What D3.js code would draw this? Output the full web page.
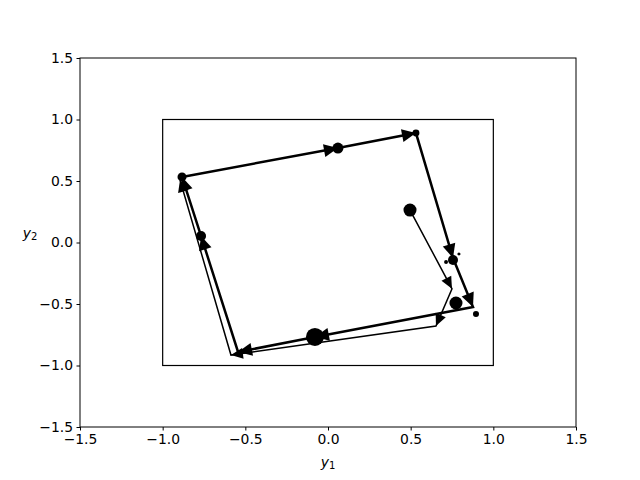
<!DOCTYPE html>
<html>
<head>
<meta charset="utf-8">
<script src="https://cdn.jsdelivr.net/npm/d3@7"></script>
<style>
  body { margin: 0; background: #fff; }
  text { font-family: "DejaVu Sans", sans-serif; }
</style>
</head>
<body>
<svg id="chart"></svg>
<script>
// axis ticks
const xTicks = [-1.5, -1.0, -0.5, 0.0, 0.5, 1.0, 1.5];
const yTicks = [-1.5, -1.0, -0.5, 0.0, 0.5, 1.0, 1.5];

// the unit box
const boxX = [-1, 1];
const boxY = [-1, 1];

// transient trajectory (thin)
const transX = [0.496, 0.750, 0.653, -0.587, -0.895];
const transY = [0.264, -0.377, -0.679, -0.915, 0.508];

// limit cycle (thick)
const cycleX = [-0.883, 0.060, 0.532, 0.756, 0.877, -0.079, -0.544, -0.768, -0.883];
const cycleY = [0.533, 0.768, 0.890, -0.126, -0.524, -0.768, -0.890, 0.053, 0.533];

// scatter points with marker sizes
const dotX = [0.496, 0.532, 0.060, -0.883, -0.768, -0.079, 0.774, 0.756, 0.895, 0.714, 0.792];
const dotY = [0.264, 0.890, 0.768, 0.533, 0.053, -0.768, -0.492, -0.142, -0.581, -0.159, -0.093];
const dotS = [88, 25, 63, 42, 52, 168, 88, 52, 19, 8, 5];

const width = 640;
const height = 480;
const margin = { top: 58, right: 64, bottom: 53, left: 80 };

const svg = d3.select("#chart").attr("width", width).attr("height", height);

const x = d3.scaleLinear().domain([-1.5, 1.5]).range([margin.left, width - margin.right]);
const y = d3.scaleLinear().domain([-1.5, 1.5]).range([height - margin.bottom, margin.top]);
const r = d3.scaleSqrt().domain([0, 100]).range([0, Math.sqrt(100) / 2 * 100 / 72]);

const fmt = d3.format(".1f");
const minus = (v) => fmt(v).replace("-", "\u2212");

// axes
svg.append("g")
  .attr("transform", `translate(0,${height - margin.bottom})`)
  .call(d3.axisBottom(x).tickValues(xTicks).tickFormat(minus).tickSizeOuter(0).tickSize(3.5).tickPadding(3.5))
  .call((g) => g.select(".domain").remove())
  .call((g) => g.selectAll("text").attr("font-size", 13.9).attr("font-family", "DejaVu Sans").attr("fill", "#000"));

svg.append("g")
  .attr("transform", `translate(${margin.left},0)`)
  .call(d3.axisLeft(y).tickValues(yTicks).tickFormat(minus).tickSizeOuter(0).tickSize(3.5).tickPadding(3.5))
  .call((g) => g.select(".domain").remove())
  .call((g) => g.selectAll("text").attr("font-size", 13.9).attr("font-family", "DejaVu Sans").attr("fill", "#000"));

svg.append("rect")
  .attr("x", x(-1.5)).attr("y", y(1.5))
  .attr("width", x(1.5) - x(-1.5)).attr("height", y(-1.5) - y(1.5))
  .attr("fill", "none").attr("stroke", "#000").attr("stroke-width", 1);

// axis labels
const xl = svg.append("text")
  .attr("x", (x(-1.5) + x(1.5)) / 2).attr("y", 467)
  .attr("text-anchor", "middle").attr("font-size", 13.9);
xl.append("tspan").attr("font-style", "italic").text("y");
xl.append("tspan").attr("font-size", 10).attr("dy", 2).text("1");

const yl = svg.append("text")
  .attr("x", 30).attr("y", 238)
  .attr("text-anchor", "middle").attr("font-size", 13.9);
yl.append("tspan").attr("font-style", "italic").text("y");
yl.append("tspan").attr("font-size", 10).attr("dy", 2).text("2");

// box
svg.append("rect")
  .attr("x", x(boxX[0])).attr("y", y(boxY[1]))
  .attr("width", x(boxX[1]) - x(boxX[0])).attr("height", y(boxY[0]) - y(boxY[1]))
  .attr("fill", "none").attr("stroke", "#000").attr("stroke-width", 1.2);

function drawPath(xs, ys, lw, headLen, headW) {
  const pts = xs.map((d, i) => [x(d), y(ys[i])]);
  svg.append("path")
    .attr("d", d3.line()(pts))
    .attr("fill", "none").attr("stroke", "#000").attr("stroke-width", lw)
    .attr("stroke-linejoin", "miter");
  const heads = [];
  for (let i = 1; i < pts.length; i++) heads.push([pts[i - 1], pts[i]]);
  svg.append("g").selectAll("path")
    .data(heads)
    .join("path")
    .attr("d", ([a, b]) => {
      const dx = b[0] - a[0], dy = b[1] - a[1];
      const L = Math.hypot(dx, dy);
      const ux = dx / L, uy = dy / L;
      const bx = b[0] - ux * headLen, by = b[1] - uy * headLen;
      return `M${b[0]},${b[1]}L${bx - uy * headW},${by + ux * headW}L${bx + uy * headW},${by - ux * headW}Z`;
    })
    .attr("fill", "#000");
}

drawPath(transX, transY, 1.5, 12, 5.5);
drawPath(cycleX, cycleY, 2.5, 14, 6.5);

svg.append("g").selectAll("circle")
  .data(dotX)
  .join("circle")
  .attr("cx", (d) => x(d))
  .attr("cy", (d, i) => y(dotY[i]))
  .attr("r", (d, i) => r(dotS[i]))
  .attr("fill", "#000");
</script>
</body>
</html>
